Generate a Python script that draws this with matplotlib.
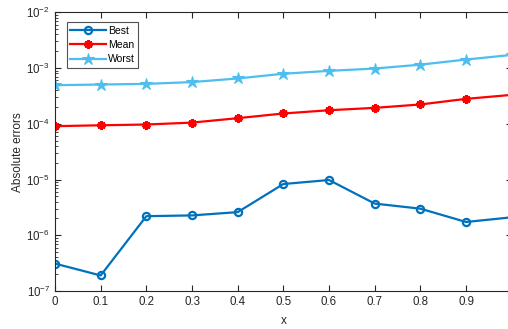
import matplotlib
matplotlib.use("Agg")
import matplotlib.pyplot as plt
import numpy as np
from matplotlib.ticker import LogLocator, NullFormatter

plt.rcParams['font.family'] = ['Liberation Sans', 'DejaVu Sans']
plt.rcParams['mathtext.fontset'] = 'custom'
plt.rcParams['mathtext.rm'] = 'Liberation Sans'
plt.rcParams['mathtext.it'] = 'Liberation Sans'

x = [0, 0.1, 0.2, 0.3, 0.4, 0.5, 0.6, 0.7, 0.8, 0.9, 1.0]
best = [3.1e-7, 1.9e-7, 2.2e-6, 2.27e-6, 2.6e-6, 8.3e-6, 9.8e-6, 3.7e-6, 3.0e-6, 1.73e-6, 2.1e-6]
mean = [9.06e-5, 9.4e-5, 9.7e-5, 1.05e-4, 1.26e-4, 1.53e-4, 1.75e-4, 1.93e-4, 2.22e-4, 2.8e-4, 3.3e-4]
worst = [4.92e-4, 5.06e-4, 5.2e-4, 5.6e-4, 6.5e-4, 7.9e-4, 8.9e-4, 9.8e-4, 1.15e-3, 1.42e-3, 1.72e-3]
xticks = [0, 0.1, 0.2, 0.3, 0.4, 0.5, 0.6, 0.7, 0.8, 0.9]
xticklabels = ['0', '0.1', '0.2', '0.3', '0.4', '0.5', '0.6', '0.7', '0.8', '0.9']
yticks = [1e-7, 1e-6, 1e-5, 1e-4, 1e-3, 1e-2]
yticklabels = ['$10^{-7}$', '$10^{-6}$', '$10^{-5}$', '$10^{-4}$', '$10^{-3}$', '$10^{-2}$']

fig = plt.figure(figsize=(5.08, 3.29), dpi=100)
ax_w = 511.7 - 55
ax_h = 291 - 12.3
ax = fig.add_axes([55/508, 1-291/329, ax_w/508, ax_h/329])

ax.plot(x, best, color='#0072BD', lw=1.6, marker='o', ms=5.2, mfc='none', mew=1.6, label='Best')
ax.plot(x, mean, color='#FF0000', lw=1.6, marker=(6, 2, 0), ms=6, mew=2.2, label='Mean')
ax.plot(x, worst, color='#4DBEEE', lw=1.6, marker='*', ms=9, mew=0.8, label='Worst')

ax.set_yscale('log')
ax.set_xlim(0, 1)
ax.set_ylim(1e-7, 1e-2)
ax.set_xticks(xticks)
ax.set_xticklabels(xticklabels)
ax.set_yticks(yticks)
ax.set_yticklabels(yticklabels)
ax.yaxis.set_minor_locator(LogLocator(base=10, subs=np.arange(2, 10)))
ax.yaxis.set_minor_formatter(NullFormatter())

ax.tick_params(which='both', direction='in', top=True, right=True, labelsize=8.3, colors='#262626')
ax.tick_params(which='major', length=4, width=0.8)
ax.tick_params(which='minor', length=2, width=0.6)
for s in ax.spines.values():
    s.set_color('#262626')
    s.set_linewidth(0.8)

ax.set_xlabel('x', fontsize=8.5, color='#262626', labelpad=5.5)
ax.set_ylabel('Absolute errors', fontsize=8.5, color='#262626', labelpad=1.7)

leg = ax.legend(loc='upper left', bbox_to_anchor=(11.7/ax_w, 1-10/ax_h), fontsize=7.5, frameon=True,
                fancybox=False, edgecolor='#262626', handlelength=3.4, handletextpad=0.2,
                borderpad=0.35, labelspacing=0.4, borderaxespad=0.0)
leg.get_frame().set_linewidth(0.8)

fig.savefig('out.png', dpi=100)
